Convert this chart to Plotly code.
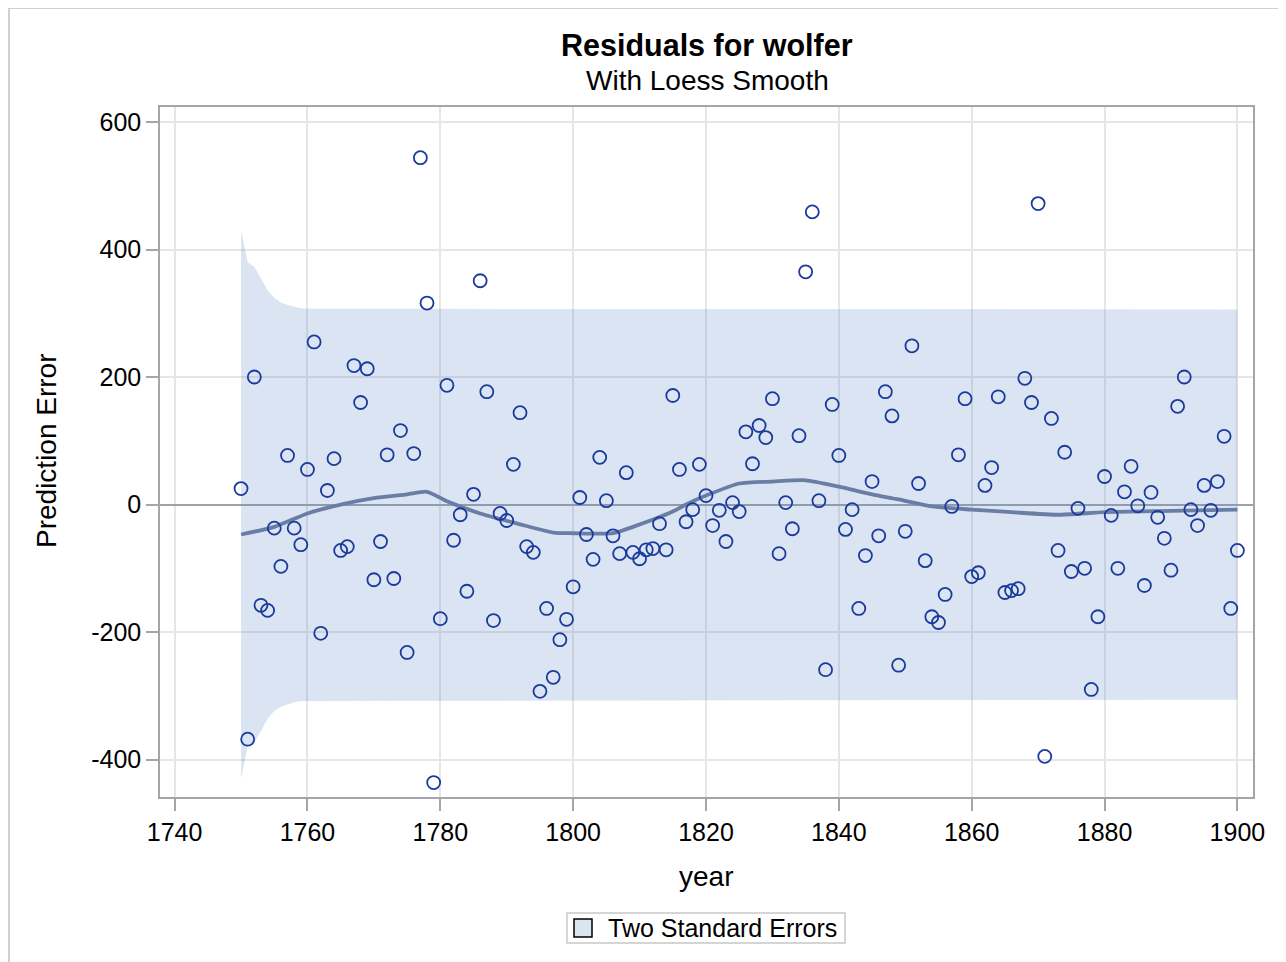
import plotly.graph_objects as go

# ---- data ----
years = list(range(1750, 1901))
residuals = [
    25, -368, 200, -158, -166, -37, -97, 77, -37, -63,          # 1750-1759
    55, 255, -202, 22, 72, -72, -66, 218, 160, 213,             # 1760-1769
    -118, -58, 78, -116, 116, -232, 80, 544, 316, -436,         # 1770-1779
    -179, 187, -56, -16, -136, 16, 351, 177, -182, -14,         # 1780-1789
    -25, 63, 144, -66, -75, -293, -163, -271, -212, -180,       # 1790-1799
    -129, 11, -47, -86, 74, 6, -49, -77, 50, -75,               # 1800-1809
    -85, -71, -69, -30, -71, 171, 55, -27, -8, 63,              # 1810-1819
    14, -33, -9, -58, 3, -11, 114, 64, 124, 105,                # 1820-1829
    166, -77, 3, -38, 108, 365, 459, 6, -259, 157,              # 1830-1839
    77, -39, -8, -163, -80, 36, -49, 177, 139, -252,            # 1840-1849
    -42, 249, 33, -88, -176, -185, -141, -3, 78, 166,           # 1850-1859
    -113, -107, 30, 58, 169, -138, -135, -132, 198, 160,        # 1860-1869
    472, -395, 135, -72, 82, -105, -6, -100, -290, -176,        # 1870-1879
    44, -17, -100, 20, 60, -2, -127, 19, -20, -53,              # 1880-1889
    -103, 154, 200, -8, -33, 30, -9, 36, 107, -163,             # 1890-1899
    -72,                                                        # 1900
]

loess_years = [1750, 1755, 1760, 1765, 1770, 1775, 1778, 1781, 1786, 1792,
               1797, 1800, 1806, 1809, 1815, 1817, 1820, 1825, 1830, 1835,
               1840, 1845, 1849, 1854, 1860, 1866, 1873, 1880, 1890, 1900]
loess_values = [-47, -35, -14, 0, 10, 16, 20, 5, -14, -31,
                -44, -45, -45, -35, -11, 0, 14, 33, 36, 38,
                28, 16, 8, -3, -8, -12, -16, -12, -10, -8]

band_years = [1750, 1751, 1752, 1753, 1754, 1755, 1756, 1757, 1758, 1759, 1760, 1900]
band_upper = [430, 380, 373, 355, 336, 324, 317, 313, 310, 308, 307, 306]
band_lower = [-430, -380, -373, -355, -336, -324, -317, -313, -310, -308, -307, -306]

x_ticks = [1740, 1760, 1780, 1800, 1820, 1840, 1860, 1880, 1900]
y_ticks = [-400, -200, 0, 200, 400, 600]
y_tick_labels = ["-400", "-200", "0", "200", "400", "600"]

legend_label = "Two Standard Errors"

# ---- figure (page body has an 8px margin, so work in screen coords - 8) ----
OFF = 8
W, H = 1286 - OFF, 962 - OFF
ML, MT = 160 - OFF, 107 - OFF
MR = W - (1253 - OFF)
MB = H - (797 - OFF)
PW, PH = W - ML - MR, H - MT - MB


def px(xs):
    """screen x pixel -> paper x"""
    return (xs - OFF - ML) / PW


def py(ys):
    """screen y pixel -> paper y"""
    return (H - MB - (ys - OFF)) / PH


FONT = "Liberation Sans, Arial, Helvetica, sans-serif"
BAND_FILL = "rgba(100,140,200,0.23)"
SWATCH_FILL = "#dbe4f1"

fig = go.Figure()

fig.add_trace(go.Scatter(
    x=band_years + band_years[::-1],
    y=band_upper + band_lower[::-1],
    fill="toself", fillcolor=BAND_FILL,
    line=dict(width=0, color="rgba(0,0,0,0)"),
    mode="lines", hoverinfo="skip", name=legend_label, showlegend=False,
))

fig.add_trace(go.Scatter(
    x=loess_years, y=loess_values, mode="lines",
    line=dict(color="#6a7ea5", width=3.8, shape="spline", smoothing=0.6),
    showlegend=False,
))

fig.add_trace(go.Scatter(
    x=years, y=residuals, mode="markers",
    marker=dict(symbol="circle-open", size=13, color="#1a3b9c",
                line=dict(width=1.8, color="#1a3b9c")),
    showlegend=False,
))

axis_common = dict(
    showline=True, linecolor="#a3a6ab", linewidth=1.5, mirror=True,
    showgrid=True, gridcolor="#e6e6e6", gridwidth=1.5,
    ticks="outside", ticklen=12, tickwidth=1.5, tickcolor="#a3a6ab",
    tickfont=dict(family=FONT, size=25, color="#000000"),
)

fig.update_xaxes(
    range=[1737.8, 1902.35], tickvals=x_ticks, zeroline=False, **axis_common,
)
fig.update_yaxes(
    range=[-458.7, 623.5], tickvals=y_ticks, ticktext=y_tick_labels,
    zeroline=True, zerolinecolor="#9ca2a8", zerolinewidth=1.5,
    **axis_common,
)

fig.update_layout(
    width=W, height=H,
    margin=dict(l=ML, r=MR, t=MT, b=MB, pad=0, autoexpand=False),
    paper_bgcolor="white", plot_bgcolor="white",
    font=dict(family=FONT, color="#000000"),
    showlegend=False,
    annotations=[
        dict(text="<b>Residuals for wolfer</b>", x=px(707), y=py(45),
             xref="paper", yref="paper", showarrow=False,
             xanchor="center", yanchor="middle",
             font=dict(family=FONT, size=30.5, color="#000000")),
        dict(text="With Loess Smooth", x=px(707), y=py(80),
             xref="paper", yref="paper", showarrow=False,
             xanchor="center", yanchor="middle",
             font=dict(family=FONT, size=28, color="#000000")),
        dict(text="year", x=px(706), y=py(876),
             xref="paper", yref="paper", showarrow=False,
             xanchor="center", yanchor="middle",
             font=dict(family=FONT, size=28, color="#000000")),
        dict(text="Prediction Error", x=px(46), y=py(451),
             xref="paper", yref="paper", showarrow=False, textangle=-90,
             xanchor="center", yanchor="middle",
             font=dict(family=FONT, size=28, color="#000000")),
        # legend label
        dict(text=legend_label, x=px(606), y=py(928),
             xref="paper", yref="paper", showarrow=False,
             xanchor="left", yanchor="middle",
             font=dict(family=FONT, size=25, color="#000000")),
    ],
    shapes=[
        # outer page frame (top and left edges)
        dict(type="line", xref="paper", yref="paper",
             x0=px(8), x1=px(1300), y0=py(8), y1=py(8),
             line=dict(color="#d0d0d0", width=2)),
        dict(type="line", xref="paper", yref="paper",
             x0=px(9), x1=px(9), y0=py(8), y1=py(980),
             line=dict(color="#d0d0d0", width=2)),
        # legend frame
        dict(type="rect", xref="paper", yref="paper",
             x0=px(567), x1=px(845), y0=py(943), y1=py(913),
             line=dict(color="#c8c8c8", width=1.5), fillcolor="white"),
        # legend swatch
        dict(type="rect", xref="paper", yref="paper",
             x0=px(574), x1=px(592), y0=py(937), y1=py(919),
             line=dict(color="#000000", width=1.5), fillcolor=SWATCH_FILL),
    ],
)

fig.write_html("out.html")
